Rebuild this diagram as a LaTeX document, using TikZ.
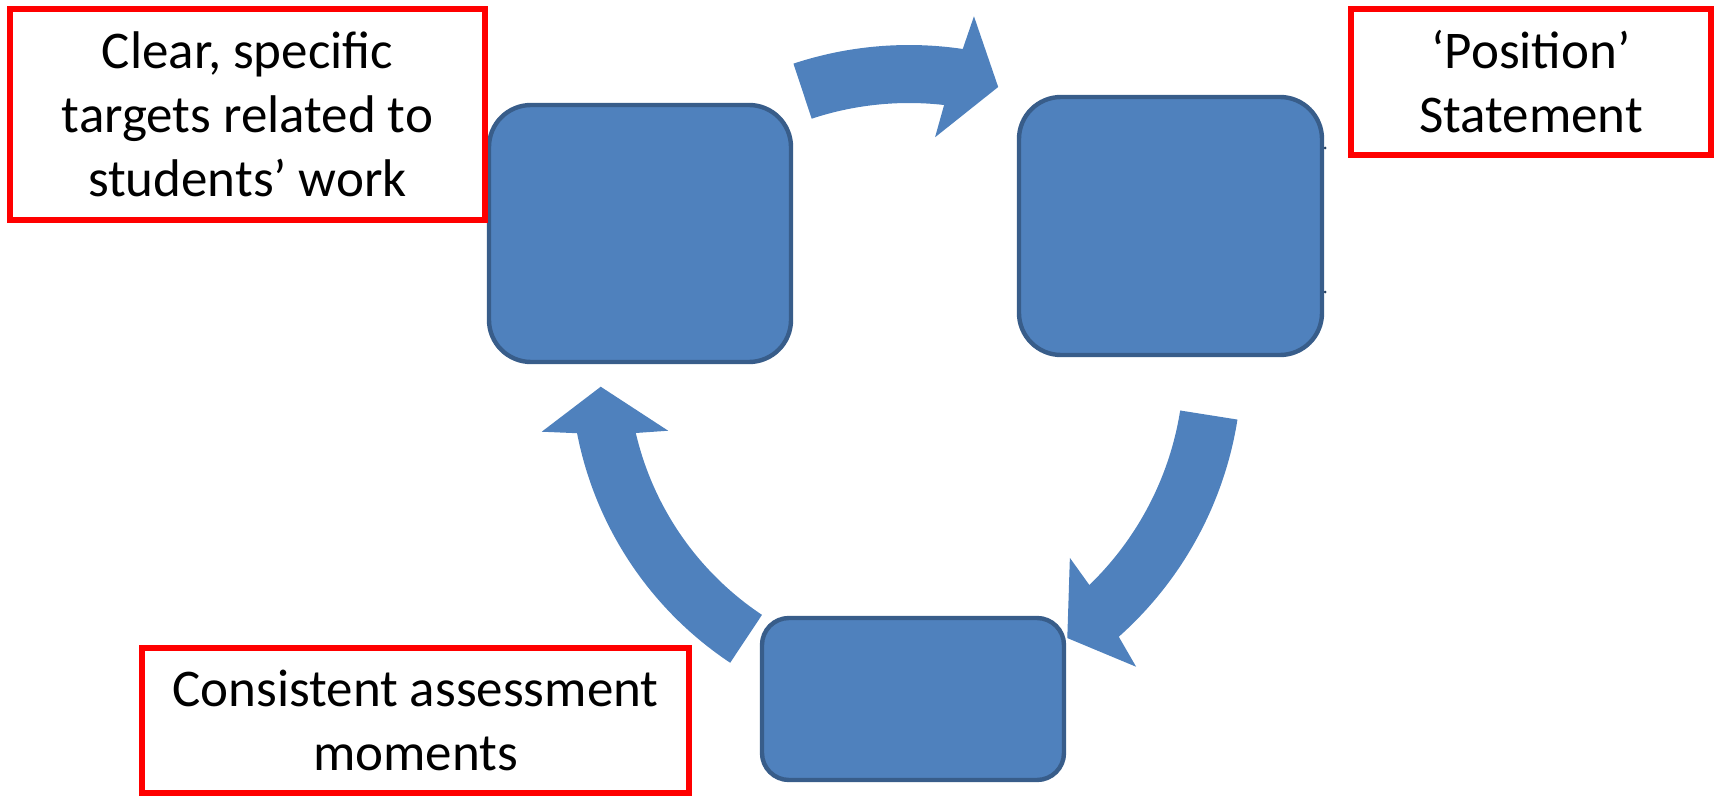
\documentclass[tikz,border=0pt]{standalone}
\usepackage{fontspec}
\setmainfont{Carlito}
\usetikzlibrary{calc}
\definecolor{cyclefill}{HTML}{4F81BD}
\definecolor{cycleline}{HTML}{385D8A}
\begin{document}
\begin{tikzpicture}[x=0.5pt,y=-0.5pt]
\tikzstyle{every node}+=[inner sep=0pt]
\tikzstyle{bluebox}=[draw=cycleline, fill=cyclefill, line width=2.2pt, rounded corners=21pt]
\tikzstyle{redlabel}=[draw=red, line width=3pt, align=center, font=\fontsize{26.5}{32}\selectfont]
\tikzstyle{arrowfill}=[fill=cyclefill]
\useasboundingbox (0,0) rectangle (1715,797);
\coordinate (c1) at (909,413);
\coordinate (c2) at (874,362);
\coordinate (c3) at (928,365);
\fill [arrowfill] ($(c1)+(-108.3:368)$) arc [start angle=-108.3, end angle=-81.6, radius=368] -- ($(c1)+(-80.7:402)$) -- ($(c1)+(-74.7:338)$) -- ($(c1)+(-84.6:277)$) -- ($(c1)+(-83.5:310)$) arc [start angle=-83.5, end angle=-108.3, radius=310] -- cycle;
\fill [arrowfill] ($(c2)+(9:368)$) arc [start angle=9, end angle=48.3, radius=368] -- ($(c2)+(49.3:402)$) -- ($(c2)+(55:337)$) -- ($(c2)+(45:277)$) -- ($(c2)+(46:310)$) arc [start angle=46, end angle=9, radius=310] -- cycle;
\fill [arrowfill] ($(c3)+(123.6:357.5)$) arc [start angle=123.6, end angle=169, radius=357.5] -- ($(c3)+(170.2:392)$) -- ($(c3)+(176.2:328)$) -- ($(c3)+(165.8:268)$) -- ($(c3)+(166.9:300)$) arc [start angle=166.9, end angle=123.6, radius=300] -- cycle;
\node [bluebox, minimum width=151pt, minimum height=128.5pt] (targetbox) at (640,233.5) {};
\node [bluebox, minimum width=151.5pt, minimum height=129pt] (positionbox) at (1170.5,226) {};
\node [bluebox, rounded corners=13.5pt, minimum width=151pt, minimum height=81pt] (assessbox) at (913,699) {};
\fill [cycleline!70!black] (1325,148) circle (1.5) (1325,292) circle (1.5);
\node [redlabel, minimum width=237.5pt, minimum height=105.5pt] (targetlabel) at (247.5,114.5) {Clear, specific\\targets related to\\students’ work};
\node [redlabel, minimum width=180pt, minimum height=73pt] (positionlabel) at (1531,82) {‘Position’\\Statement};
\node [redlabel, minimum width=273.5pt, minimum height=72.5pt] (assesslabel) at (415.5,720.5) {Consistent assessment\\moments};
\end{tikzpicture}
\end{document}
